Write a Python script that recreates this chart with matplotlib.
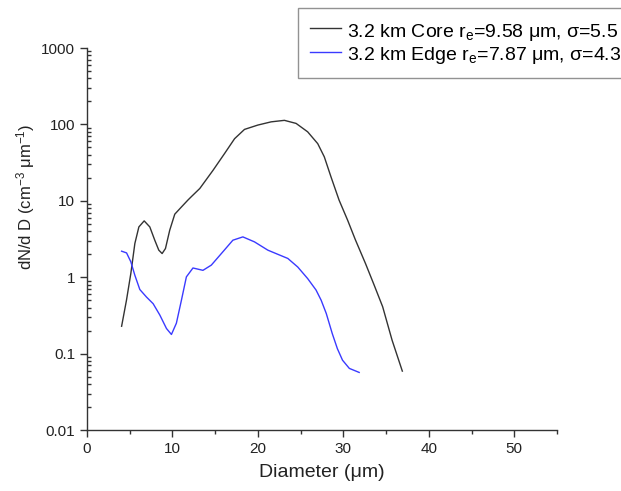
import matplotlib
matplotlib.use("Agg")
import matplotlib.pyplot as plt
from matplotlib.ticker import MultipleLocator, LogLocator, NullFormatter, FixedFormatter

plt.rcParams['font.family'] = ['Liberation Sans', 'DejaVu Sans']
plt.rcParams['mathtext.fontset'] = 'custom'
plt.rcParams['mathtext.rm'] = 'Liberation Sans'
plt.rcParams['mathtext.it'] = 'Liberation Sans'

# data
core_d = [4.05, 4.62, 5.13, 5.6, 6.07, 6.69, 7.35, 7.93, 8.4, 8.79, 9.18, 9.68,
          10.27, 11.05, 11.8, 12.2, 13.2, 14.74, 16.1, 17.27, 18.43, 19.99, 21.55,
          23.1, 24.47, 25.82, 27.0, 27.77, 28.55, 29.5, 30.5, 31.4, 32.6, 33.6,
          34.6, 35.7, 36.9]
core_n = [0.228, 0.5, 1.12, 2.76, 4.55, 5.46, 4.55, 3.05, 2.26, 2.04, 2.37, 4.12,
          6.68, 8.3, 10.2, 11.3, 14.5, 25, 41.6, 65, 86, 98, 108,
          113, 103, 80, 56, 37.6, 20.6, 10.2, 5.57, 3.1, 1.5, 0.79,
          0.41, 0.15, 0.059]

edge_d = [4.05, 4.63, 5.13, 5.6, 6.18, 6.96, 7.74, 8.52, 9.3, 9.88, 10.46, 11.05,
          11.63, 12.4, 13.57, 14.55, 15.9, 17.07, 18.24, 19.6, 21.16, 22.3, 23.5,
          24.66, 25.82, 26.8, 27.4, 28.0, 28.7, 29.3, 29.9, 30.7, 31.85]
edge_n = [2.19, 2.08, 1.59, 1.06, 0.69, 0.55, 0.45, 0.32, 0.213, 0.178, 0.25, 0.5,
          1.01, 1.32, 1.23, 1.44, 2.15, 3.05, 3.37, 2.9, 2.26, 2.0, 1.76,
          1.36, 0.96, 0.68, 0.5, 0.335, 0.183, 0.116, 0.082, 0.064, 0.0567]

labels = ["3.2 km Core r$_\\mathrm{e}$=9.58 \u03bcm, \u03c3=5.5",
          "3.2 km Edge r$_\\mathrm{e}$=7.87 \u03bcm, \u03c3=4.3"]
y_ticks = [0.01, 0.1, 1, 10, 100, 1000]
y_ticklabels = ["0.01", "0.1", "1", "10", "100", "1000"]

fig = plt.figure(figsize=(6.21, 4.91), dpi=100)
ax = fig.add_axes([87/621, 1-430/491, (557-87)/621, (430-48)/491])

l1, = ax.plot(core_d, core_n, color='#333333', lw=1.0)
l2, = ax.plot(edge_d, edge_n, color='#3a3aff', lw=1.0)

ax.set_yscale('log')
ax.set_xlim(0, 55)
ax.set_ylim(0.01, 1000)
ax.set_yticks(y_ticks)
ax.yaxis.set_major_formatter(FixedFormatter(y_ticklabels))
ax.yaxis.set_minor_locator(LogLocator(base=10, subs=range(2, 10)))
ax.yaxis.set_minor_formatter(NullFormatter())
ax.xaxis.set_major_locator(MultipleLocator(10))
ax.xaxis.set_minor_locator(MultipleLocator(5))

for s in ['top', 'right']:
    ax.spines[s].set_visible(False)
for s in ['left', 'bottom']:
    ax.spines[s].set_color('#333333')
    ax.spines[s].set_linewidth(1.0)

ax.tick_params(which='major', direction='out', length=5, width=1, color='#333333',
               labelsize=11, labelcolor='#222222')
ax.tick_params(axis='y', which='minor', direction='in', length=3, width=1, color='#333333')
ax.tick_params(axis='x', which='minor', direction='out', length=3, width=1, color='#333333')

ax.set_xlabel("Diameter (\u03bcm)", fontsize=14, labelpad=6, color='#222222')
ax.set_ylabel("dN/d D (cm$^{-3}$ \u03bcm$^{-1}$)", fontsize=12, color='#222222')
ax.yaxis.set_label_coords(-0.106, 0.61)

leg = fig.legend([l1, l2], labels, loc='upper left',
                 bbox_to_anchor=(298/621, 1-8/491), fontsize=14,
                 frameon=True, fancybox=False, borderpad=0.6, borderaxespad=0,
                 handlelength=1.6, handleheight=1.35, handletextpad=0.3,
                 labelspacing=0.0)
leg.get_frame().set_edgecolor('#777777')
leg.get_frame().set_linewidth(1.0)

fig.savefig("out.png", dpi=100)
